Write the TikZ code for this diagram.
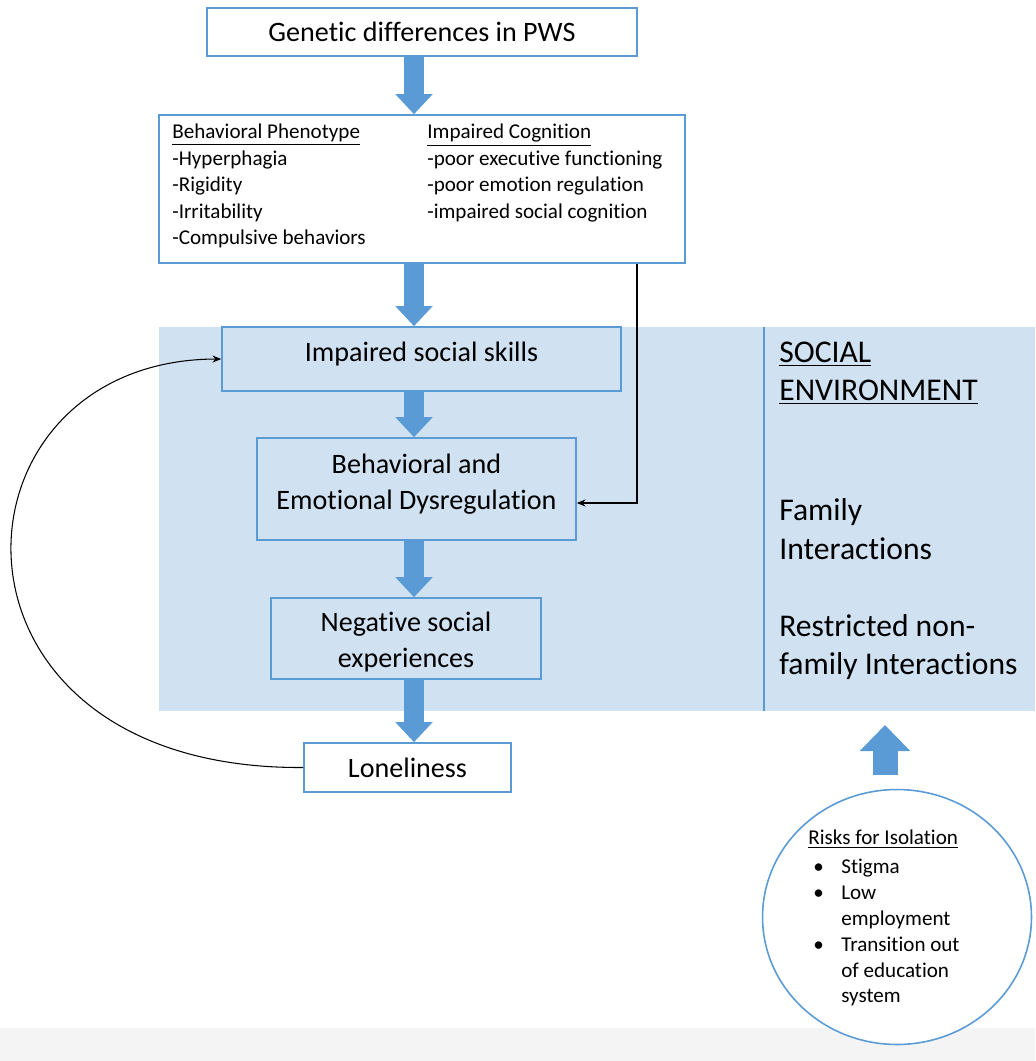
\documentclass[tikz,border=0pt]{standalone}
\usepackage{fontspec}
\setmainfont{Carlito}[RawFeature={-liga;-clig;-calt;-dlig}]
\usetikzlibrary{positioning,arrows.meta,shapes.geometric}

\definecolor{pwsblue}{HTML}{5B9BD5}
\definecolor{envblue}{HTML}{D0E1F1}
\definecolor{bandgray}{HTML}{F4F4F4}

\newcommand{\boxlines}[2]{\raisebox{#1}[\height][\depth]{\begin{tabular}{@{}c@{}}#2\end{tabular}}}

\tikzset{
  box/.style={draw=pwsblue, line width=0.9pt, fill=white, align=center,
    inner sep=0pt, font=\fontsize{16}{20.5}\selectfont},
  envbox/.style={box, fill=envblue},
  flow/.style={draw=pwsblue, line width=0.4cm,
    -{Triangle[width=0.72cm,length=0.4cm]}},
  feedback/.style={draw=black, line width=0.6pt,
    -{Stealth[length=5pt,width=4pt]}},
  listtext/.style={align=left, anchor=north west, inner sep=0pt,
    font=\fontsize{12}{15}\selectfont},
  envtext/.style={align=left, anchor=west, inner sep=0pt,
    font=\fontsize{18}{21.8}\selectfont},
}

\begin{document}
\begin{tikzpicture}[x=0.02cm, y=-0.02cm]
\useasboundingbox (0,0) rectangle (1035,1061);

% background
\fill[bandgray] (0,1028) rectangle (1035,1061);
\fill[envblue] (159,327) rectangle (1035,711);
\draw[pwsblue, line width=1.6pt] (764,327) -- (764,711);

% boxes
\node[box, minimum width=8.6cm, minimum height=0.96cm] (genetic) at (422,32) {Genetic differences in PWS};
\node[box, minimum width=10.52cm, minimum height=2.96cm] (traits) at (422,189) {};
\node[listtext] (phenotype) at (172,124) {\underline{Behavioral Phenotype}\\-Hyperphagia\\-Rigidity\\-Irritability\\-Compulsive behaviors};
\node[listtext] (cognition) at (427,124) {\underline{Impaired Cognition}\\-poor executive functioning\\-poor emotion regulation\\-impaired social cognition};

\node[envbox, minimum width=7.98cm, minimum height=1.28cm] (skills) at (421.5,359) {\boxlines{0.1cm}{Impaired social skills}};
\node[envbox, minimum width=6.38cm, minimum height=2.04cm] (dysreg) at (416.5,489) {\boxlines{0.1cm}{Behavioral and\\Emotional Dysregulation}};
\node[envbox, minimum width=5.4cm, minimum height=1.62cm] (negative) at (406,638.5) {\boxlines{-0.08cm}{Negative social\\experiences}};
\node[box, minimum width=4.14cm, minimum height=0.98cm] (lonely) at (407.5,767.5) {Loneliness};

% social environment
\node[envtext] (environment) at (779,373) {\underline{SOCIAL}\\\underline{ENVIRONMENT}};
\node[envtext] (family) at (779,529) {Family\\Interactions};
\node[envtext] (nonfamily) at (779,647) {Restricted non-\\family Interactions};

% risks
\node[draw=pwsblue, line width=0.9pt, fill=white, ellipse,
  minimum width=5.38cm, minimum height=5.1cm] (risk) at (897,917) {};
\node[anchor=north west, inner sep=0pt, font=\fontsize{12}{14.7}\selectfont] (risklist) at (808,826) {%
\begin{tabular}{@{}l@{}l@{}}
\multicolumn{2}{@{}l@{}}{\underline{Risks for Isolation}}\\[2pt]
\makebox[0.66cm][l]{\hspace{0.1cm}\textbullet} & Stigma\\
\makebox[0.66cm][l]{\hspace{0.1cm}\textbullet} & Low\\
 & employment\\
\makebox[0.66cm][l]{\hspace{0.1cm}\textbullet} & Transition out\\
 & of education\\
 & system
\end{tabular}};

% main flow
\coordinate (spine) at (414,0);
\draw[flow] (genetic.south -| spine) -- (traits.north -| spine);
\draw[flow] (traits.south -| spine) -- (skills.north -| spine);
\draw[flow] (skills.south -| spine) -- (dysreg.north -| spine);
\draw[flow] (dysreg.south -| spine) -- (negative.north -| spine);
\draw[flow] (negative.south -| spine) -- (lonely.north -| spine);

% up arrow
\coordinate (upfoot) at (885,775);
\coordinate (uptip) at (885,725);
\draw[flow, line width=0.5cm, -{Triangle[width=0.98cm,length=0.52cm]}] (upfoot) -- (uptip);

% feedback lines
\coordinate (tap) at (637,0);
\draw[feedback] (traits.south -| tap) |- ([yshift=-0.28cm]dysreg.east);
\draw[feedback] (lonely.west) .. controls (-80,770) and (-62,360) .. (skills.west);
\end{tikzpicture}
\end{document}
